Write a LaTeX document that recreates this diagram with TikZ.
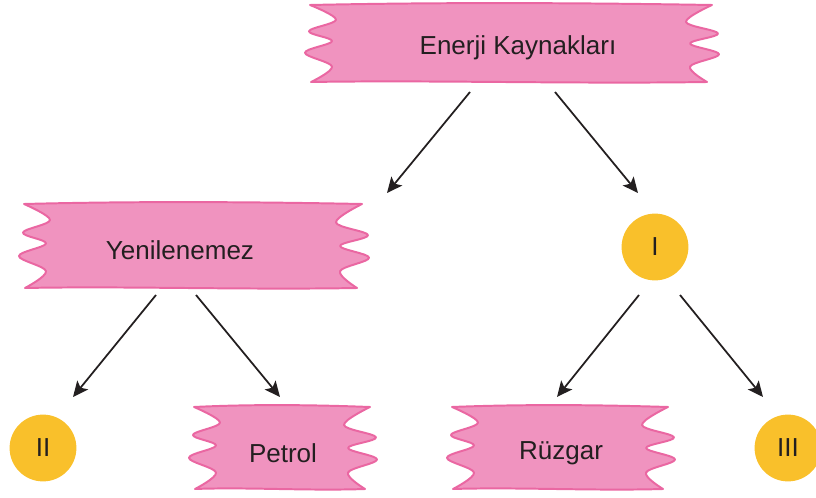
\documentclass[tikz,border=0pt]{standalone}
\usepackage{fontspec}
\setmainfont{Liberation Sans}
\usetikzlibrary{arrows.meta}

\definecolor{bannerpink}{HTML}{F093BF}
\definecolor{bannerline}{HTML}{EA67A2}
\definecolor{bubbleyellow}{HTML}{F9C02B}
\definecolor{inkblack}{HTML}{231F20}

\tikzset{
	banner/.style = {fill = bannerpink, draw = bannerline, line width = 1.4pt, line join = round},
	label text/.style = {text = inkblack, font = \fontsize{18.5}{22}\selectfont, inner sep = 0pt},
	bubble/.style = {circle, fill = bubbleyellow, minimum size = 47.5pt, inner sep = 0pt, text = inkblack, font = \fontsize{18.5}{22}\selectfont},
	arrow/.style = {-{Stealth[length = 11pt, width = 10pt, inset = 2.5pt]}, line width = 1.25pt, draw = inkblack}
}

% torn paper banner, corners given in pixels: x1 y1 x2 y2
\newcommand{\wavybox}[4]{%
	\filldraw[banner] (#1, #2)
		.. controls ({#1 + 0.35*(#3 - #1)}, {#2 - 3}) and ({#1 + 0.7*(#3 - #1)}, {#2 - 2}) .. (#3, #2)
		-- plot[smooth, tension = 0.6] coordinates {(#3, #2) ({#3 - 26}, {#2 + 0.22*(#4 - #2)}) ({#3 + 6}, {#2 + 0.37*(#4 - #2)}) ({#3 - 22}, {#2 + 0.5*(#4 - #2)}) ({#3 + 7}, {#2 + 0.64*(#4 - #2)}) ({#3 - 22}, {#2 + 0.8*(#4 - #2)}) ({#3 - 5}, #4)}
		.. controls ({#1 + 0.65*(#3 - #1)}, {#4 + 2}) and ({#1 + 0.3*(#3 - #1)}, {#4 - 2}) .. ({#1 + 1}, #4)
		-- plot[smooth, tension = 0.6] coordinates {({#1 + 1}, #4) ({#1 + 22}, {#2 + 0.8*(#4 - #2)}) ({#1 - 5}, {#2 + 0.62*(#4 - #2)}) ({#1 + 22}, {#2 + 0.47*(#4 - #2)}) ({#1 - 1}, {#2 + 0.34*(#4 - #2)}) ({#1 + 26}, {#2 + 0.19*(#4 - #2)}) (#1, #2)}
		-- cycle;%
}

\begin{document}
\begin{tikzpicture}[x = 0.025cm, y = -0.025cm]

	\useasboundingbox (0, 0) rectangle (816, 498);

	% banners
	\wavybox{310}{5}{712}{82}
	\wavybox{24}{204}{362}{288}
	\wavybox{194}{407}{370}{489}
	\wavybox{452}{407}{668}{489}

	% texts on the banners
	\node[label text] (enerji) at (518, 48) {Enerji Kaynakları};
	\node[label text] (yenilenemez) at (180, 250) {Yenilenemez};
	\node[label text] (petrol) at (283, 453) {Petrol};
	\node[label text] (ruzgar) at (561, 453) {Rüzgar};

	% yellow circles for the blanks
	\node[bubble] (one) at (655, 247) {I};
	\node[bubble] (two) at (43, 448) {II};
	\node[bubble] (three) at (788, 448) {III};

	% arrows
	\draw[arrow] ([shift = {(-48, 44)}]enerji.center) -- ([shift = {(207, -57)}]yenilenemez.center);
	\draw[arrow] ([shift = {(37, 44)}]enerji.center) -- ([shift = {(-17, -54)}]one.center);
	\draw[arrow] ([shift = {(-24, 45)}]yenilenemez.center) -- ([shift = {(30, -51)}]two.center);
	\draw[arrow] ([shift = {(16, 45)}]yenilenemez.center) -- ([shift = {(-3, -56)}]petrol.center);
	\draw[arrow] ([shift = {(-16, 48)}]one.center) -- ([shift = {(-4, -56)}]ruzgar.center);
	\draw[arrow] ([shift = {(25, 48)}]one.center) -- ([shift = {(-25, -51)}]three.center);

\end{tikzpicture}
\end{document}
